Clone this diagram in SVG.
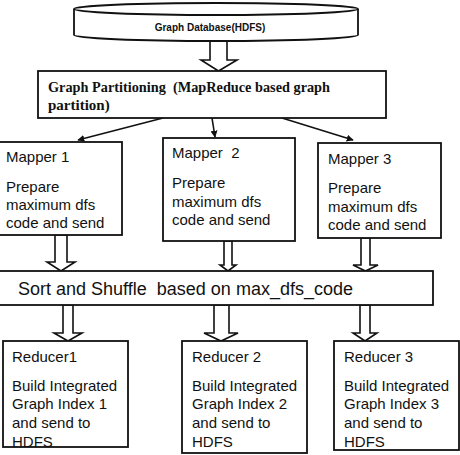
<svg xmlns="http://www.w3.org/2000/svg" width="460" height="455" viewBox="0 0 460 455">
<defs>
<style>
.box{fill:#fff;stroke:#111;stroke-width:1.8}
.ha{fill:#fff;stroke:#111;stroke-width:1.6;stroke-linejoin:miter}
.ln{fill:none;stroke:#111;stroke-width:1.6}
.t{font-family:"Liberation Sans",Arial,sans-serif;font-size:15px;fill:#111}
.s{font-family:"Liberation Sans",Arial,sans-serif;font-size:17.5px;fill:#111}
.db{font-family:"Liberation Sans",Arial,sans-serif;font-size:10px;font-weight:bold;fill:#111}
.p{font-family:"Liberation Serif","Times New Roman",serif;font-size:15px;font-weight:bold;fill:#111}
</style>
<marker id="ah" viewBox="0 0 10 10" refX="9" refY="5" markerWidth="7" markerHeight="7" orient="auto" markerUnits="userSpaceOnUse">
<path d="M0,0 L10,5 L0,10 z" fill="#111"/>
</marker>
</defs>
<rect width="460" height="455" fill="#fff"/>

<g id="connectors">
<polygon class="ha" points="210,41 227,41 227,60 237,60 218.5,71 201,60 210,60"/>
<line class="ln" x1="163" y1="118" x2="78" y2="140" marker-end="url(#ah)"/>
<line class="ln" x1="212" y1="118" x2="215" y2="137" marker-end="url(#ah)"/>
<line class="ln" x1="282" y1="118" x2="353" y2="140" marker-end="url(#ah)"/>
<polygon class="ha" points="55,235 67,235 67,262 75,262 61,271 47,262 55,262"/>
<polygon class="ha" points="224,241 232,241 232,265 236,265 228,271 220,265 224,265"/>
<polygon class="ha" points="361,238 370,238 370,265 378,265 365.5,271 353,265 361,265"/>
<polygon class="ha" points="63,305 73,305 73,333 82,333 68,341 54,333 63,333"/>
<polygon class="ha" points="214,305 229,305 229,333 238,333 221,341 204,333 214,333"/>
<polygon class="ha" points="360,305 370,305 370,333 377,333 365,341 353,333 360,333"/>
</g>

<g id="graph-database">
<path class="box" d="M74,9 V35 A142,6 0 0 0 358,35 V9"/>
<ellipse class="box" cx="216" cy="9" rx="142" ry="6"/>
<text class="db" x="210" y="31" text-anchor="middle">Graph Database(HDFS)</text>
</g>

<g id="graph-partitioning">
<rect class="box" x="38" y="71" width="348" height="47"/>
<text class="p" x="48" y="92" textLength="282" lengthAdjust="spacingAndGlyphs" xml:space="preserve">Graph Partitioning  (MapReduce based graph</text>
<text class="p" x="48" y="110">partition)</text>
</g>

<g id="mapper1">
<rect class="box" x="-2" y="142" width="124" height="93"/>
<text class="t" x="6" y="162">Mapper 1</text>
<text class="t" x="6" y="192">Prepare</text>
<text class="t" x="6" y="210">maximum dfs</text>
<text class="t" x="6" y="228">code and send</text>
</g>

<g id="mapper2">
<rect class="box" x="163" y="138" width="132" height="103"/>
<text class="t" x="172" y="158" xml:space="preserve">Mapper  2</text>
<text class="t" x="172" y="188">Prepare</text>
<text class="t" x="172" y="207">maximum dfs</text>
<text class="t" x="172" y="225">code and send</text>
</g>

<g id="mapper3">
<rect class="box" x="318" y="143" width="123" height="95"/>
<text class="t" x="328" y="164">Mapper 3</text>
<text class="t" x="328" y="193">Prepare</text>
<text class="t" x="328" y="212">maximum dfs</text>
<text class="t" x="328" y="230">code and send</text>
</g>

<g id="sort-shuffle">
<rect class="box" x="-2" y="271" width="435" height="34"/>
<text class="s" x="18" y="295" textLength="335" lengthAdjust="spacingAndGlyphs" xml:space="preserve">Sort and Shuffle  based on max_dfs_code</text>
</g>

<g id="reducer1">
<rect class="box" x="3" y="341" width="125" height="106"/>
<text class="t" x="12" y="362">Reducer1</text>
<text class="t" x="12" y="391">Build Integrated</text>
<text class="t" x="12" y="409">Graph Index 1</text>
<text class="t" x="12" y="428">and send to</text>
<text class="t" x="12" y="447">HDFS</text>
</g>

<g id="reducer2">
<rect class="box" x="182" y="341" width="125" height="112"/>
<text class="t" x="192" y="362">Reducer 2</text>
<text class="t" x="192" y="391">Build Integrated</text>
<text class="t" x="192" y="409">Graph Index 2</text>
<text class="t" x="192" y="428">and send to</text>
<text class="t" x="192" y="447">HDFS</text>
</g>

<g id="reducer3">
<rect class="box" x="334" y="341" width="125" height="109"/>
<text class="t" x="344" y="362">Reducer 3</text>
<text class="t" x="344" y="391">Build Integrated</text>
<text class="t" x="344" y="409">Graph Index 3</text>
<text class="t" x="344" y="428">and send to</text>
<text class="t" x="344" y="447">HDFS</text>
</g>
</svg>
